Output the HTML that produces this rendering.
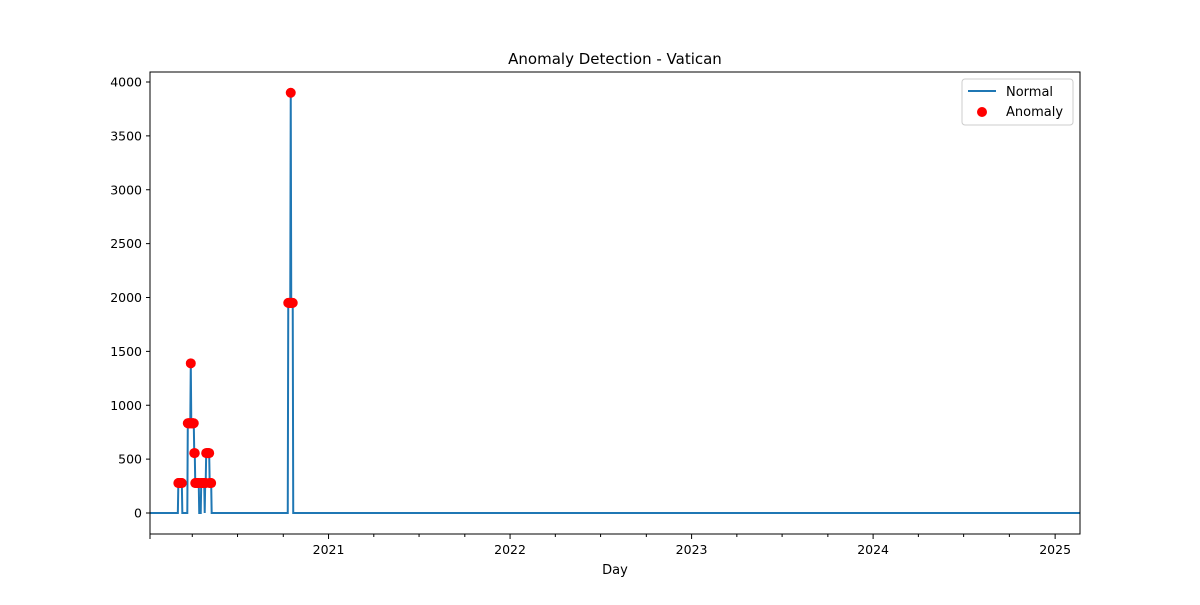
<!DOCTYPE html>
<html><head><meta charset="utf-8"><style>
body{margin:0;background:#fff;font-family:"Liberation Sans","DejaVu Sans",sans-serif}
svg text{font-family:"DejaVu Sans","Liberation Sans",sans-serif;fill:#000}
</style></head><body>
<svg id="c" width="1200" height="600"></svg>
<script>
// Day offsets from 2020-01-08 with non-zero case values
const nzDays=[57,58,59,60,61,62,63,64,76,77,78,79,80,81,82,83,84,85,86,87,88,89,90,91,92,93,94,95,96,97,98,103,104,105,106,107,108,109,111,112,113,114,115,116,117,118,119,120,121,122,123,278,279,280,281,282,283,284,285,286,287];
const nzVals=[278,278,278,278,278,278,278,278,833,833,833,833,833,833,1389,833,833,833,833,833,833,556,556,278,278,278,278,278,278,278,278,278,278,278,278,278,278,278,278,278,556,556,556,556,556,556,556,278,278,278,278,1950,1950,1950,1950,1950,3900,1950,1950,1950,1950];
const totalDays=1870;
const yTicks=[0,500,1000,1500,2000,2500,3000,3500,4000];
const yearLabels=["2021","2022","2023","2024","2025"];
const yearDays=[359,724,1089,1454,1820];

const NS="http://www.w3.org/2000/svg",svg=document.getElementById('c');
const L=150,R=1080,T=72,B=534;
const x=d=>L+d/totalDays*(R-L);
const y=v=>513-v*(431/4000);
function mk(t,a,p){const e=document.createElementNS(NS,t);for(const k in a)e.setAttribute(k,a[k]);(p||svg).appendChild(e);return e;}
let e;
e=mk('text',{x:615,y:64,'text-anchor':'middle','font-size':15});e.textContent='Anomaly Detection - Vatican';


// series
const vals=new Array(totalDays+1).fill(0);
nzDays.forEach((d,i)=>vals[d]=nzVals[i]);
let pts=vals.map((v,d)=>x(d).toFixed(2)+','+y(v).toFixed(2)).join(' ');
e=mk('polyline',{points:pts,fill:'none',stroke:'#1f77b4','stroke-width':2});


nzDays.forEach((d,i)=>{
 const c=mk('circle',{cx:x(d),cy:y(nzVals[i]),r:5,fill:'red'});
 
 
});
// frame
e=mk('rect',{x:L,y:T,width:R-L,height:B-T,fill:'none',stroke:'#000','stroke-width':1});


// y ticks
yTicks.forEach(v=>{
 mk('line',{x1:L-4,x2:L,y1:y(v),y2:y(v),stroke:'#000'});
 const t=mk('text',{x:L-8,y:y(v)+4.5,'text-anchor':'end','font-size':12.5});t.textContent=v;
 
 
});
// x ticks
mk('line',{x1:L,x2:L,y1:B,y2:B+5,stroke:'#000'});
yearDays.forEach((d,i)=>{
 mk('line',{x1:x(d),x2:x(d),y1:B,y2:B+5,stroke:'#000'});
 const t=mk('text',{x:x(d),y:B+20,'text-anchor':'middle','font-size':12.5});t.textContent=yearLabels[i];
 
 
});
[-365,0,365,730,1095,1460].forEach(b=>{[91,182,274].forEach(o=>{const d=359+b+o;if(d>0&&d<totalDays)mk('line',{x1:x(d),x2:x(d),y1:B,y2:B+3,stroke:'#000'});});});
e=mk('text',{x:615,y:574,'text-anchor':'middle','font-size':13});e.textContent='Day';


// legend
const g=mk('g',{});


mk('rect',{x:962,y:79,width:111,height:46,rx:3,fill:'#fff',stroke:'#ccc'},g);
mk('line',{x1:968,x2:996,y1:91,y2:91,stroke:'#1f77b4','stroke-width':2},g);
e=mk('text',{x:1006,y:96,'font-size':13},g);e.textContent='Normal';
mk('circle',{cx:982,cy:112,r:5,fill:'red'},g);
e=mk('text',{x:1006,y:116,'font-size':13},g);e.textContent='Anomaly';
</script>
</body></html>
